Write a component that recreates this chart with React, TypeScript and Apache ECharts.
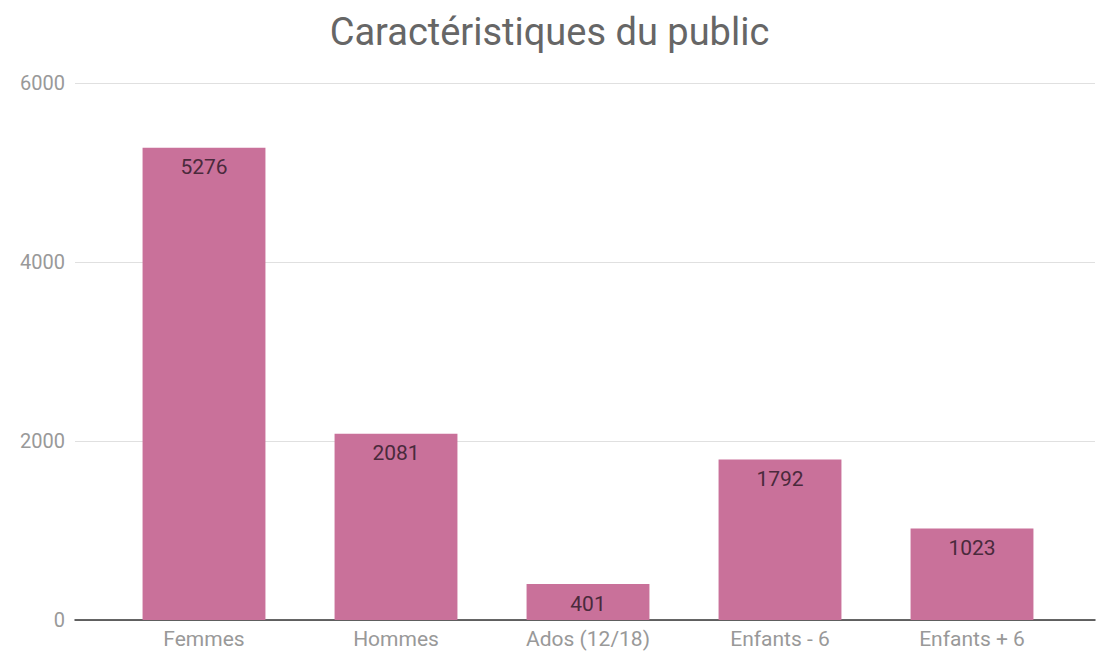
import React, { useEffect, useRef } from "react";
import * as echarts from "echarts";

const categories = ["Femmes", "Hommes", "Ados (12/18)", "Enfants - 6", "Enfants + 6"];
const values = [5276, 2081, 401, 1792, 1023];
const yTicks = [0, 2000, 4000, 6000];

export default function App() {
  const ref = useRef<HTMLDivElement>(null);
  useEffect(() => {
    document.body.style.margin = "0";
    if (!ref.current) return;
    const chart = echarts.init(ref.current, undefined, { renderer: "svg" });
    const font = "Roboto, 'Noto Sans', sans-serif";
    chart.setOption({
      animation: false,
      backgroundColor: "#ffffff",
      title: {
        text: "Caractéristiques du public",
        left: "center",
        top: 8,
        textStyle: { fontFamily: font, fontSize: 38, fontWeight: "normal", color: "#666" },
      },
      grid: [
        { left: 75, right: 4, top: 83, bottom: 39, containLabel: false },
        { left: 108, right: 31, top: 83, bottom: 39, containLabel: false },
      ],
      xAxis: [
        {
          type: "category",
          gridIndex: 0,
          data: [""],
          axisLine: { show: true, lineStyle: { color: "#333", width: 1.5 } },
          axisTick: { show: false },
          axisLabel: { show: false },
        },
        {
          type: "category",
          gridIndex: 1,
          data: categories,
          axisLine: { show: false },
          axisTick: { show: false },
          axisLabel: { fontFamily: font, fontSize: 21, color: "#999", margin: 8 },
        },
      ],
      yAxis: [
        {
          type: "value",
          gridIndex: 0,
          min: yTicks[0],
          max: yTicks[yTicks.length - 1],
          interval: 2000,
          axisLine: { show: false },
          axisTick: { show: false },
          axisLabel: {
            fontFamily: font,
            fontSize: 20,
            color: "#999",
            margin: 10,
            formatter: (v: number) => String(v),
          },
          splitLine: { lineStyle: { color: "#e0e0e0", width: 1 } },
        },
        {
          type: "value",
          gridIndex: 1,
          min: yTicks[0],
          max: yTicks[yTicks.length - 1],
          interval: 2000,
          show: false,
          splitLine: { show: false },
        },
      ],
      series: [
        {
          type: "bar",
          xAxisIndex: 1,
          yAxisIndex: 1,
          data: values,
          barWidth: "64%",
          itemStyle: { color: "#c9719a" },
          label: {
            show: true,
            position: "insideTop",
            distance: 9,
            fontFamily: font,
            fontSize: 21,
            color: "#4a2a3c",
          },
        },
      ],
    });
    return () => chart.dispose();
  }, []);
  return <div ref={ref} style={{ width: 1099, height: 659 }} />;
}
